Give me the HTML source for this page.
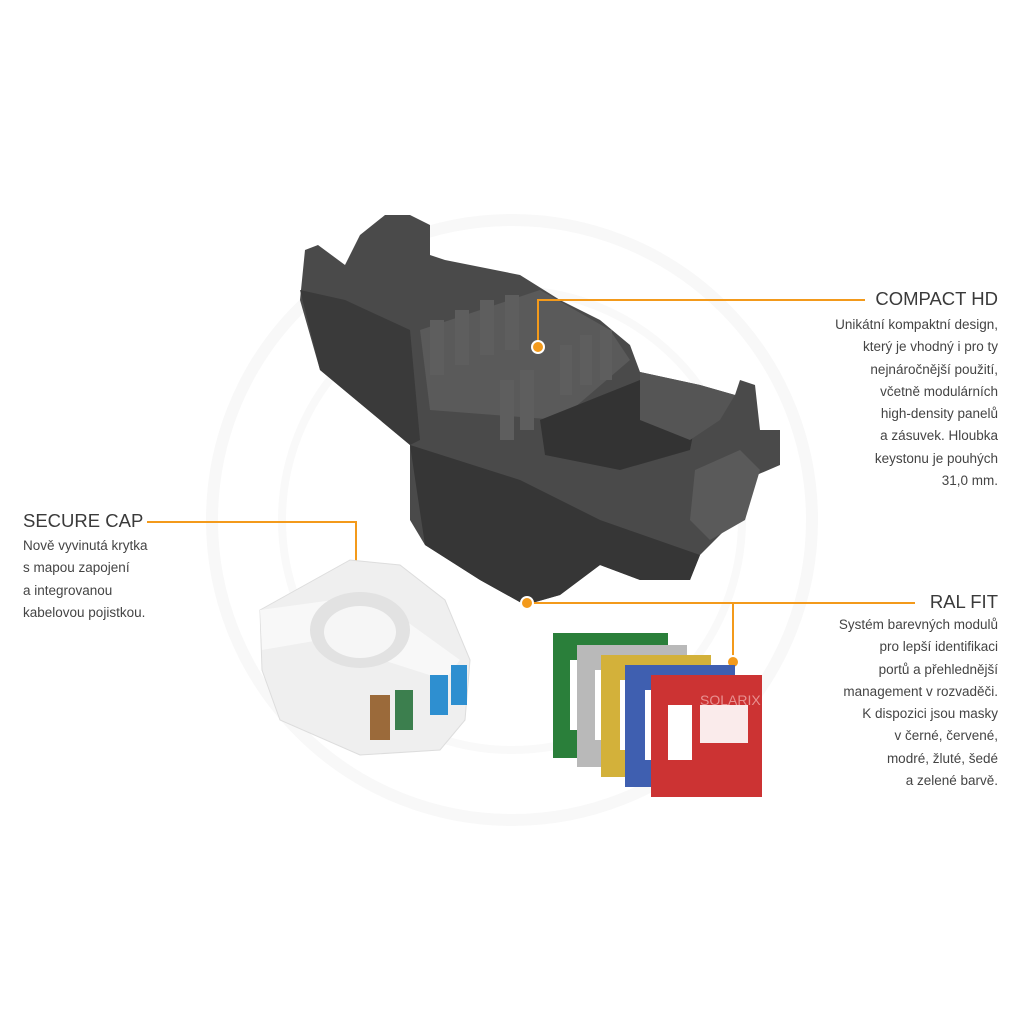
<!DOCTYPE html>
<html><head><meta charset="utf-8"><style>
body{margin:0;width:1024px;height:1024px;background:#fff;position:relative;overflow:hidden;font-family:"Liberation Sans",sans-serif;color:#444}
.t{position:absolute;font-size:13.5px;line-height:22.3px;letter-spacing:0}
.h{position:absolute;font-size:18.5px;color:#3a3a3a;letter-spacing:0}
.r{text-align:right}
svg{position:absolute;left:0;top:0}
</style></head><body>
<svg width="1024" height="1024" viewBox="0 0 1024 1024">
<circle cx="512" cy="520" r="300" fill="none" stroke="#f8f8f8" stroke-width="12"/>
<circle cx="512" cy="520" r="230" fill="none" stroke="#f9f9f9" stroke-width="8"/>
<polygon points="305,250 318,245 345,265 360,235 385,215 410,215 430,225 430,255 445,260 520,275 560,300 600,320 630,345 640,372 700,385 735,395 740,380 755,385 760,430 780,430 780,465 745,480 735,520 700,555 690,580 640,580 600,565 560,595 525,605 480,580 425,545 410,520 410,445 350,395 320,370 300,300" fill="#4a4a4a"/>
<polygon points="300,290 345,300 410,330 420,440 410,445 350,395 320,370" fill="#3a3a3a"/>
<polygon points="420,330 540,290 610,330 630,360 560,420 430,410" fill="#5a5a5a"/>
<polygon points="410,445 520,480 600,520 700,555 690,580 640,580 600,565 560,595 525,605 480,580 425,545" fill="#363636"/>
<polygon points="540,420 640,380 700,400 690,450 620,470 545,455" fill="#333"/>
<g fill="#5e5e5e"><rect x="430" y="320" width="14" height="55"/><rect x="455" y="310" width="14" height="55"/><rect x="480" y="300" width="14" height="55"/><rect x="505" y="295" width="14" height="55"/><rect x="560" y="345" width="12" height="50"/><rect x="580" y="335" width="12" height="50"/><rect x="600" y="330" width="12" height="50"/><rect x="500" y="380" width="14" height="60"/><rect x="520" y="370" width="14" height="60"/></g>
<polygon points="640,372 700,385 735,395 720,420 690,440 640,420" fill="#555"/>
<polygon points="695,470 740,450 760,470 745,520 710,540 690,520" fill="#5a5a5a"/>
<g stroke="#f39a1b" stroke-width="2" fill="none">
<polyline points="538,345 538,300 865,300"/>
<polyline points="147,522 356,522 356,627"/>
<polyline points="527,603 733,603 733,660"/>
<line x1="733" y1="603" x2="915" y2="603"/>
</g>
<g fill="#f39a1b" stroke="#fff" stroke-width="2"><circle cx="538" cy="347" r="6"/><circle cx="356" cy="628" r="6"/><circle cx="527" cy="603" r="6"/><circle cx="733" cy="662" r="6"/></g>
<polygon points="260,610 350,560 400,565 445,600 470,660 465,720 440,750 360,755 280,720 262,670" fill="#efefef" stroke="#ddd"/>
<polygon points="260,610 370,595 460,660 445,680 320,640 262,650" fill="#f8f8f8"/>
<ellipse cx="360" cy="630" rx="50" ry="38" fill="#e2e2e2"/>
<ellipse cx="360" cy="632" rx="36" ry="26" fill="#f6f6f6"/>
<rect x="370" y="695" width="20" height="45" fill="#9b6a3a"/>
<rect x="395" y="690" width="18" height="40" fill="#3c7f4e"/>
<rect x="430" y="675" width="18" height="40" fill="#2e8fd0"/>
<rect x="451" y="665" width="16" height="40" fill="#2e8fd0"/>
<rect x="553" y="633" width="115" height="125" fill="#2a7f3a"/><rect x="570" y="660" width="20" height="70" fill="#fff"/>
<rect x="577" y="645" width="110" height="122" fill="#b9b9b9"/><rect x="595" y="670" width="20" height="70" fill="#fff"/>
<rect x="601" y="655" width="110" height="122" fill="#d3b13a"/><rect x="620" y="680" width="20" height="70" fill="#fff"/>
<rect x="625" y="665" width="110" height="122" fill="#3f5fb0"/><rect x="645" y="690" width="20" height="70" fill="#fff"/>
<rect x="651" y="675" width="111" height="122" fill="#cc3333"/><rect x="668" y="705" width="24" height="55" fill="#fff"/><rect x="700" y="705" width="48" height="38" fill="#fff" opacity=".9"/>
<text x="700" y="705" fill="#e89090" font-size="14" font-family="Liberation Sans">SOLARIX</text>
</svg>
<div class="h" style="right:26px;top:288px">COMPACT HD</div>
<div class="t r" style="right:26px;top:314px;width:260px">Unikátní kompaktní design,<br>který je vhodný i pro ty<br>nejnáročnější použití,<br>včetně modulárních<br>high-density panelů<br>a zásuvek. Hloubka<br>keystonu je pouhých<br>31,0 mm.</div>
<div class="h" style="left:23px;top:510px">SECURE CAP</div>
<div class="t" style="left:23px;top:535px">Nově vyvinutá krytka<br>s mapou zapojení<br>a integrovanou<br>kabelovou pojistkou.</div>
<div class="h" style="right:26px;top:591px">RAL FIT</div>
<div class="t r" style="right:26px;top:614px;width:260px">Systém barevných modulů<br>pro lepší identifikaci<br>portů a přehlednější<br>management v rozvaděči.<br>K dispozici jsou masky<br>v černé, červené,<br>modré, žluté, šedé<br>a zelené barvě.</div>
</body></html>
